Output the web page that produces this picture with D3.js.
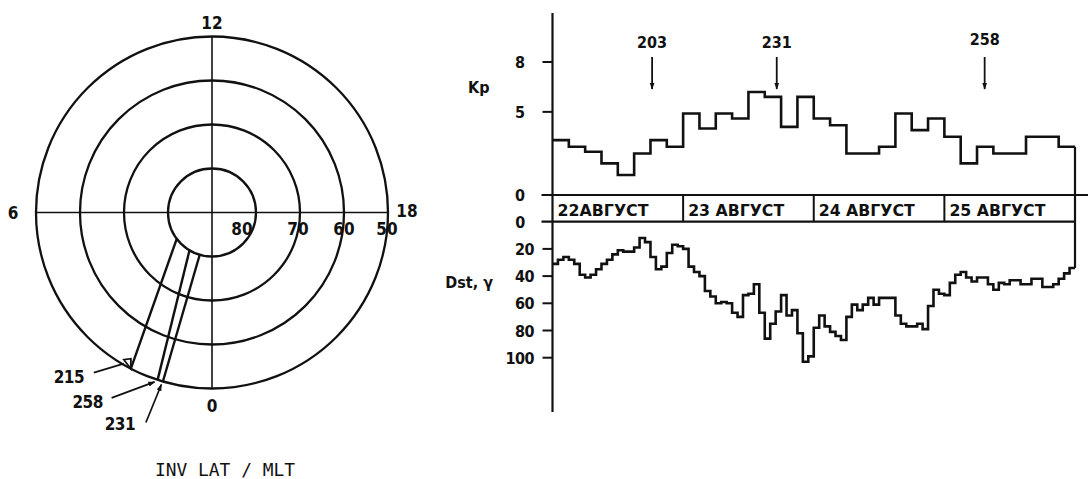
<!DOCTYPE html>
<html>
<head>
<meta charset="utf-8">
<script src="https://cdn.jsdelivr.net/npm/d3@7"></script>
<style>
  body { margin: 0; background: #fff; }
  svg { display: block; }
  text { font-family: "DejaVu Sans", sans-serif; font-stretch: condensed; font-weight: bold; fill: #111; }
  text.caption { font-family: "DejaVu Sans Mono", monospace; font-weight: normal; font-stretch: normal; }
</style>
</head>
<body>
<div class="chart"></div>
<script>
// ---- data ----
// Kp, 3-hour values, 22-25 August (32 intervals)
var kp = [3.3, 2.9, 2.6, 1.9, 1.2, 2.5, 3.3, 2.9,
          4.9, 4.0, 4.9, 4.6, 6.2, 5.9, 4.1, 5.9,
          4.6, 4.2, 2.5, 2.5, 2.9, 4.9, 3.9, 4.6,
          3.5, 1.9, 2.9, 2.5, 2.5, 3.5, 3.5, 2.9];
// Dst, hourly values (sign dropped, axis points down), 96 hours
var dst = [31, 28, 26, 28, 31, 39, 41, 39, 35, 31, 28, 24, 21, 22, 22, 19, 12, 15, 26, 35, 33, 23, 17, 18,
           20, 33, 37, 40, 51, 55, 60, 59, 60, 67, 70, 54, 53, 46, 67, 86, 75, 66, 54, 69, 65, 82, 103, 99,
           78, 69, 77, 81, 84, 87, 70, 61, 65, 61, 56, 61, 56, 56, 56, 69, 75, 77, 77, 75, 79, 62, 50, 53,
           54, 45, 39, 37, 41, 44, 41, 41, 46, 50, 45, 46, 43, 43, 46, 46, 42, 42, 48, 48, 46, 42, 38, 34];
var days = ["22", "23", "24", "25"];
var monthName = "АВГУСТ";
var kpTicks = [0, 5, 8];
var dstTicks = [0, 20, 40, 60, 80, 100];

// satellite passes marked above the Kp panel (hours from 22 Aug 00 UT)
var passLabels = ["203", "231", "258"];
var passHours = [18.3, 41.2, 79.4];

// polar plot: passes from 80 to 50 deg inv. lat
var trackIds = ["215", "258", "231"];
var trackMltIn = [3.55, 2.05, 1.08];
var trackMltOut = [1.83, 1.20, 1.08];
var latRings = [80, 70, 60, 50];
var mltLabels = [0, 6, 12, 18];

// ---- layout ----
var W = 1088, H = 479;
var svg = d3.select(".chart").append("svg")
  .attr("width", W).attr("height", H);
svg.append("rect").attr("width", W).attr("height", H).attr("fill", "#fff");

svg.append("defs").append("marker")
  .attr("id", "arr")
  .attr("viewBox", "0 0 10 10")
  .attr("refX", 9).attr("refY", 5)
  .attr("markerWidth", 7).attr("markerHeight", 8)
  .attr("markerUnits", "userSpaceOnUse")
  .attr("orient", "auto")
  .append("path").attr("d", "M0,1.5L10,5L0,8.5Z").attr("fill", "#111");

var ink = "#111";

// ================= right panel =================
var x = d3.scaleLinear().domain([0, 96]).range([552.5, 1075]);
var yKp = d3.scaleLinear().domain([0, 8]).range([195, 62]);
var yDst = d3.scaleLinear().domain([0, 100]).range([221.7, 357.7]);

var right = svg.append("g");

// vertical axis
right.append("line")
  .attr("x1", x(0)).attr("x2", x(0))
  .attr("y1", 13).attr("y2", 412)
  .attr("stroke", ink).attr("stroke-width", 2.2);

// Kp ticks
right.selectAll(".kpt").data(kpTicks.filter(function(d){ return d > 0; }))
  .enter().append("line")
  .attr("x1", x(0) - 10).attr("x2", x(0))
  .attr("y1", function(d){ return yKp(d); }).attr("y2", function(d){ return yKp(d); })
  .attr("stroke", ink).attr("stroke-width", 2);
right.selectAll(".kpl").data(kpTicks)
  .enter().append("text")
  .attr("x", 520).attr("y", function(d){ return yKp(d) + 6; })
  .attr("text-anchor", "middle").attr("font-size", 16)
  .text(function(d){ return d; });

// Dst ticks
right.selectAll(".dt").data(dstTicks.filter(function(d){ return d > 0; }))
  .enter().append("line")
  .attr("x1", x(0) - 10).attr("x2", x(0))
  .attr("y1", function(d){ return yDst(d); }).attr("y2", function(d){ return yDst(d); })
  .attr("stroke", ink).attr("stroke-width", 2);
right.selectAll(".dl").data(dstTicks)
  .enter().append("text")
  .attr("x", function(d){ return d === 0 ? 520 : 534; })
  .attr("y", function(d){ return yDst(d) + 6; })
  .attr("text-anchor", function(d){ return d === 0 ? "middle" : "end"; })
  .attr("font-size", 16)
  .attr("letter-spacing", -0.5)
  .text(function(d){ return d; });

right.append("text").attr("x", 468).attr("y", 93).attr("font-size", 16).text("Kp");
right.append("text").attr("x", 493).attr("y", 288).attr("text-anchor", "end")
  .attr("font-size", 16).text("Dst, γ");

// date strip
right.append("line")
  .attr("x1", x(0) - 11).attr("x2", W)
  .attr("y1", yKp(0)).attr("y2", yKp(0))
  .attr("stroke", ink).attr("stroke-width", 2.2);
right.append("line")
  .attr("x1", x(0) - 11).attr("x2", x(96))
  .attr("y1", yDst(0)).attr("y2", yDst(0))
  .attr("stroke", ink).attr("stroke-width", 2.2);
right.selectAll(".dd").data(days)
  .enter().append("line")
  .attr("x1", function(d, i){ return x((i + 1) * 24); })
  .attr("x2", function(d, i){ return x((i + 1) * 24); })
  .attr("y1", yKp(0)).attr("y2", yDst(0))
  .attr("stroke", ink).attr("stroke-width", 2);
right.selectAll(".dn").data(days)
  .enter().append("text")
  .attr("x", function(d, i){ return x(i * 24) + 5; })
  .attr("y", yDst(0) - 6)
  .attr("font-size", 16)
  .attr("textLength", function(d, i){ return i === 0 ? 91 : 96; })
  .attr("lengthAdjust", "spacingAndGlyphs")
  .text(function(d, i){ return d + (i === 0 ? "" : " ") + monthName; });

// Kp step trace
var kpPts = kp.map(function(v, i){ return [i * 3, v]; });
kpPts.push([96, kp[kp.length - 1]]);
right.append("path")
  .datum(kpPts)
  .attr("fill", "none").attr("stroke", ink).attr("stroke-width", 2.6)
  .attr("d", d3.line()
    .x(function(d){ return x(d[0]); })
    .y(function(d){ return yKp(d[1]); })
    .curve(d3.curveStepAfter));

// Dst step trace
var dstPts = dst.map(function(v, i){ return [i, v]; });
dstPts.push([96, dst[dst.length - 1]]);
right.append("path")
  .datum(dstPts)
  .attr("fill", "none").attr("stroke", ink).attr("stroke-width", 2.6)
  .attr("d", d3.line()
    .x(function(d){ return x(d[0]); })
    .y(function(d){ return yDst(d[1]); })
    .curve(d3.curveStepAfter));

// closing line at the end of the record
right.append("line")
  .attr("x1", x(96)).attr("x2", x(96))
  .attr("y1", yKp(kp[kp.length - 1])).attr("y2", yDst(dst[dst.length - 1]))
  .attr("stroke", ink).attr("stroke-width", 2.2);

// pass arrows
right.selectAll(".pa").data(passHours)
  .enter().append("line")
  .attr("x1", function(d){ return x(d); }).attr("x2", function(d){ return x(d); })
  .attr("y1", 57).attr("y2", 89)
  .attr("stroke", ink).attr("stroke-width", 1.8)
  .attr("marker-end", "url(#arr)");
right.selectAll(".pl").data(passLabels)
  .enter().append("text")
  .attr("x", function(d, i){ return x(passHours[i]); })
  .attr("y", function(d, i){ return i === 2 ? 45 : 48; })
  .attr("text-anchor", "middle").attr("font-size", 16)
  .text(function(d){ return d; });

// ================= polar panel =================
var cx = 212, cy = 212.5;
var r = d3.scaleLinear().domain([90, 50]).range([0, 176]);
var polar = svg.append("g").attr("transform", "translate(" + cx + "," + cy + ")");

function pt(mlt, lat) {
  return d3.pointRadial(Math.PI + mlt * Math.PI / 12, r(lat));
}

polar.selectAll(".ring").data(latRings)
  .enter().append("circle")
  .attr("r", function(d){ return r(d); })
  .attr("fill", "none").attr("stroke", ink).attr("stroke-width", 2.3);

// 0-12 and 6-18 meridians
polar.selectAll(".mer").data([0, 6])
  .enter().append("line")
  .attr("x1", function(d){ return pt(d, 50)[0]; })
  .attr("y1", function(d){ return pt(d, 50)[1]; })
  .attr("x2", function(d){ return pt(d + 12, 50)[0]; })
  .attr("y2", function(d){ return pt(d + 12, 50)[1]; })
  .attr("stroke", ink).attr("stroke-width", 1.6);

// MLT labels
var mltOff = {0: [0, 17], 6: [-23, 0], 12: [0, -14], 18: [19, -2]};
polar.selectAll(".mltl").data(mltLabels)
  .enter().append("text")
  .attr("x", function(d){ return pt(d, 50)[0] + mltOff[d][0]; })
  .attr("y", function(d){ return pt(d, 50)[1] + mltOff[d][1] + 6; })
  .attr("text-anchor", "middle").attr("font-size", 17)
  .text(function(d){ return d; });

// latitude labels sitting on the rings, 18 MLT side
var latOff = {80: -14, 70: -2, 60: 0, 50: -1};
polar.selectAll(".latl").data(latRings)
  .enter().append("text")
  .attr("x", function(d){ return r(d) + latOff[d]; })
  .attr("y", 22)
  .attr("text-anchor", "middle").attr("font-size", 17)
  .text(function(d){ return d; });

// passes
polar.selectAll(".trk").data(trackIds)
  .enter().append("line")
  .attr("x1", function(d, i){ return pt(trackMltIn[i], 80)[0]; })
  .attr("y1", function(d, i){ return pt(trackMltIn[i], 80)[1]; })
  .attr("x2", function(d, i){ return pt(trackMltOut[i], 50)[0]; })
  .attr("y2", function(d, i){ return pt(trackMltOut[i], 50)[1]; })
  .attr("stroke", ink).attr("stroke-width", 2.4);

// small tag at the end of the 215 pass
var e215 = pt(trackMltOut[0], 50);
polar.append("path")
  .attr("d", "M" + e215[0] + "," + e215[1] + "l-7,-9l7,-1z")
  .attr("fill", "none").attr("stroke", ink).attr("stroke-width", 1.8);

// pass labels with leaders
var lab = [
  {dx: -62, dy: 8, lx: -37, ly: 4, tx: -7, ty: -5, arrow: false},
  {dx: -70, dy: 22, lx: -46, ly: 18, tx: -3, ty: 2, arrow: true},
  {dx: -43, dy: 42, lx: -17, ly: 41, tx: -1.5, ty: 3, arrow: true}
];
trackIds.forEach(function(id, i) {
  var e = pt(trackMltOut[i], 50), o = lab[i];
  polar.append("line")
    .attr("x1", e[0] + o.lx).attr("y1", e[1] + o.ly)
    .attr("x2", e[0] + o.tx).attr("y2", e[1] + o.ty)
    .attr("stroke", ink).attr("stroke-width", 1.7)
    .attr("marker-end", o.arrow ? "url(#arr)" : null);
  polar.append("text")
    .attr("x", e[0] + o.dx).attr("y", e[1] + o.dy + 6)
    .attr("text-anchor", "middle").attr("font-size", 17)
    .attr("letter-spacing", -0.5)
    .text(id);
});

svg.append("text")
  .attr("class", "caption")
  .attr("x", 225).attr("y", 476)
  .attr("text-anchor", "middle")
  .attr("font-size", 17)
  .attr("textLength", 140)
  .attr("lengthAdjust", "spacingAndGlyphs")
  .text("INV LAT / MLT");
</script>
</body>
</html>
